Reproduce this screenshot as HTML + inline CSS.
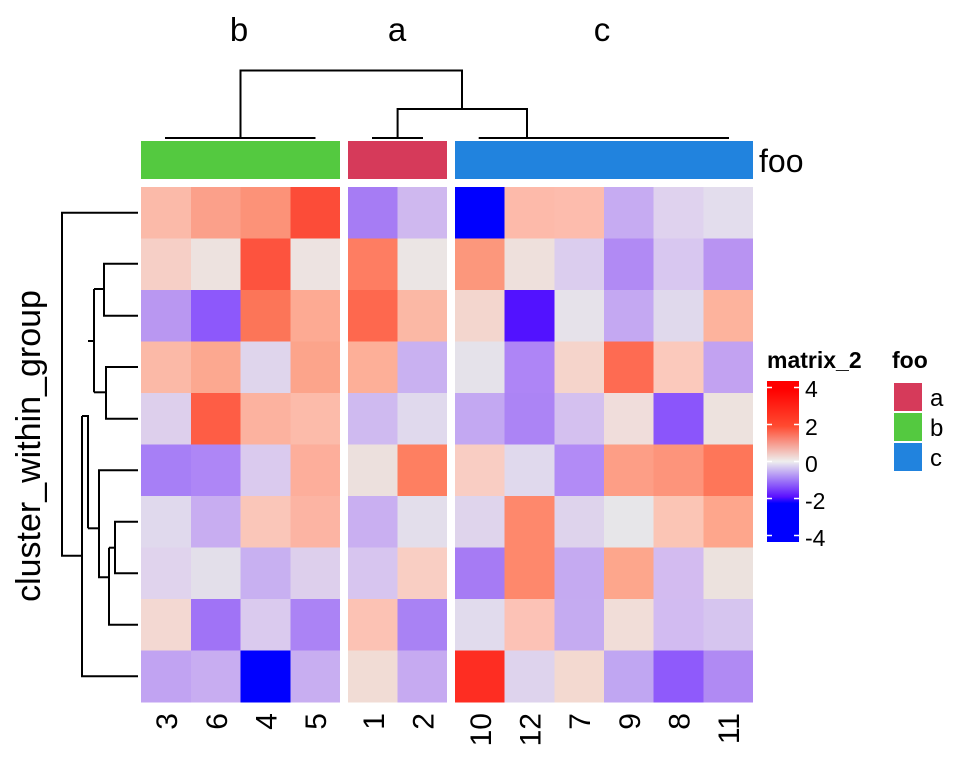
<!DOCTYPE html>
<html><head><meta charset="utf-8"><style>
html,body{margin:0;padding:0;background:#fff;}
svg{display:block;font-family:"Liberation Sans",Arial,sans-serif;}
</style></head><body>
<svg width="960" height="768" viewBox="0 0 960 768" xmlns="http://www.w3.org/2000/svg">
<defs>
<linearGradient id="lg" x1="0" y1="0" x2="0" y2="1">
<stop offset="0" stop-color="#ff0000"/>
<stop offset="0.05" stop-color="#ff0000"/>
<stop offset="0.28" stop-color="#ff4a30"/>
<stop offset="0.5" stop-color="#eeeeee"/>
<stop offset="0.72" stop-color="#5a10ff"/>
<stop offset="0.76" stop-color="#0000ff"/>
<stop offset="1" stop-color="#0000ff"/>
</linearGradient>
</defs>
<g font-size="33" text-anchor="middle" fill="#000">
<text x="239" y="41">b</text><text x="397" y="41">a</text><text x="602" y="41">c</text>
</g>
<g stroke="#000" stroke-width="2" fill="none">
<path d="M240.5,138 V70.5 H462 V109"/>
<path d="M397.6,138 V109 H527 V138"/>
<path d="M165,138 H315.5 M372,138 H423 M478.7,138 H729"/>
</g>
<rect x="141" y="141" width="199" height="38" fill="#54c940"/>
<rect x="348" y="141" width="99" height="38" fill="#d63a5a"/>
<rect x="455" y="141" width="298" height="38" fill="#2183de"/>
<text x="759" y="172" font-size="32">foo</text>
<g shape-rendering="crispEdges">
<g transform="translate(0,187)">
<rect x="141" width="50.3" height="52" fill="#fbbaa9"/><rect x="190.75" width="50.3" height="52" fill="#fba08a"/><rect x="240.5" width="50.3" height="52" fill="#fc9278"/><rect x="290.25" width="49.75" height="52" fill="#fc4c38"/>
<rect x="348" width="50" height="52" fill="#a67cf4"/><rect x="397.5" width="49.5" height="52" fill="#cfb8ef"/>
<rect x="455" width="50.2" height="52" fill="#0000ff"/><rect x="504.67" width="50.2" height="52" fill="#fdbaaa"/><rect x="554.33" width="50.2" height="52" fill="#fdbcad"/><rect x="604" width="50.2" height="52" fill="#c6abf2"/><rect x="653.67" width="50.2" height="52" fill="#dfd2ee"/><rect x="703.33" width="49.67" height="52" fill="#e3dded"/>
</g>
<g transform="translate(0,238.5)">
<rect x="141" width="50.3" height="52" fill="#f6cfc6"/><rect x="190.75" width="50.3" height="52" fill="#ede2df"/><rect x="240.5" width="50.3" height="52" fill="#fd533e"/><rect x="290.25" width="49.75" height="52" fill="#ede3e1"/>
<rect x="348" width="50" height="52" fill="#fe7d62"/><rect x="397.5" width="49.5" height="52" fill="#ebe5e4"/>
<rect x="455" width="50.2" height="52" fill="#fc977c"/><rect x="504.67" width="50.2" height="52" fill="#eee0dc"/><rect x="554.33" width="50.2" height="52" fill="#dbcdee"/><rect x="604" width="50.2" height="52" fill="#b18af4"/><rect x="653.67" width="50.2" height="52" fill="#d8c7f0"/><rect x="703.33" width="49.67" height="52" fill="#b893f2"/>
</g>
<g transform="translate(0,290)">
<rect x="141" width="50.3" height="52" fill="#b997f1"/><rect x="190.75" width="50.3" height="52" fill="#8d58fb"/><rect x="240.5" width="50.3" height="52" fill="#fc7558"/><rect x="290.25" width="49.75" height="52" fill="#fdaa93"/>
<rect x="348" width="50" height="52" fill="#fe684e"/><rect x="397.5" width="49.5" height="52" fill="#fbb8a5"/>
<rect x="455" width="50.2" height="52" fill="#f3d6ce"/><rect x="504.67" width="50.2" height="52" fill="#5212ff"/><rect x="554.33" width="50.2" height="52" fill="#e6e2ea"/><rect x="604" width="50.2" height="52" fill="#c4a8f2"/><rect x="653.67" width="50.2" height="52" fill="#e0d9ec"/><rect x="703.33" width="49.67" height="52" fill="#fdb39d"/>
</g>
<g transform="translate(0,341.5)">
<rect x="141" width="50.3" height="52" fill="#fbb9a7"/><rect x="190.75" width="50.3" height="52" fill="#fca890"/><rect x="240.5" width="50.3" height="52" fill="#dfd5ec"/><rect x="290.25" width="49.75" height="52" fill="#fca48b"/>
<rect x="348" width="50" height="52" fill="#fdaf98"/><rect x="397.5" width="49.5" height="52" fill="#c9b1f1"/>
<rect x="455" width="50.2" height="52" fill="#e5e2ea"/><rect x="504.67" width="50.2" height="52" fill="#ae85f6"/><rect x="554.33" width="50.2" height="52" fill="#f5d4cb"/><rect x="604" width="50.2" height="52" fill="#fe6b52"/><rect x="653.67" width="50.2" height="52" fill="#fbc9bc"/><rect x="703.33" width="49.67" height="52" fill="#c2a2f1"/>
</g>
<g transform="translate(0,393)">
<rect x="141" width="50.3" height="52" fill="#ddcfec"/><rect x="190.75" width="50.3" height="52" fill="#fe5d45"/><rect x="240.5" width="50.3" height="52" fill="#fcb29f"/><rect x="290.25" width="49.75" height="52" fill="#fcbbaa"/>
<rect x="348" width="50" height="52" fill="#cfbaf0"/><rect x="397.5" width="49.5" height="52" fill="#e0d9ed"/>
<rect x="455" width="50.2" height="52" fill="#c3a8f2"/><rect x="504.67" width="50.2" height="52" fill="#ac84f5"/><rect x="554.33" width="50.2" height="52" fill="#d4c0ef"/><rect x="604" width="50.2" height="52" fill="#f0dddb"/><rect x="653.67" width="50.2" height="52" fill="#8b55fb"/><rect x="703.33" width="49.67" height="52" fill="#ede2de"/>
</g>
<g transform="translate(0,444.5)">
<rect x="141" width="50.3" height="52" fill="#a77ff6"/><rect x="190.75" width="50.3" height="52" fill="#ae86f6"/><rect x="240.5" width="50.3" height="52" fill="#dacaee"/><rect x="290.25" width="49.75" height="52" fill="#fdae9b"/>
<rect x="348" width="50" height="52" fill="#ece0dd"/><rect x="397.5" width="49.5" height="52" fill="#fe7f61"/>
<rect x="455" width="50.2" height="52" fill="#f9cdc3"/><rect x="504.67" width="50.2" height="52" fill="#e0d9ed"/><rect x="554.33" width="50.2" height="52" fill="#b28bf6"/><rect x="604" width="50.2" height="52" fill="#fd9e86"/><rect x="653.67" width="50.2" height="52" fill="#fd947b"/><rect x="703.33" width="49.67" height="52" fill="#fe7659"/>
</g>
<g transform="translate(0,496)">
<rect x="141" width="50.3" height="52" fill="#e0d9ed"/><rect x="190.75" width="50.3" height="52" fill="#c8adf1"/><rect x="240.5" width="50.3" height="52" fill="#fac6b9"/><rect x="290.25" width="49.75" height="52" fill="#fcb4a3"/>
<rect x="348" width="50" height="52" fill="#c9aff1"/><rect x="397.5" width="49.5" height="52" fill="#e3deeb"/>
<rect x="455" width="50.2" height="52" fill="#dfd4ec"/><rect x="504.67" width="50.2" height="52" fill="#fe886c"/><rect x="554.33" width="50.2" height="52" fill="#ded3ec"/><rect x="604" width="50.2" height="52" fill="#e7e6e9"/><rect x="653.67" width="50.2" height="52" fill="#fbc5b5"/><rect x="703.33" width="49.67" height="52" fill="#fea68c"/>
</g>
<g transform="translate(0,547.5)">
<rect x="141" width="50.3" height="52" fill="#e0d3ed"/><rect x="190.75" width="50.3" height="52" fill="#e3dfea"/><rect x="240.5" width="50.3" height="52" fill="#c8b0f1"/><rect x="290.25" width="49.75" height="52" fill="#ddcfec"/>
<rect x="348" width="50" height="52" fill="#d7c5ef"/><rect x="397.5" width="49.5" height="52" fill="#f9cec3"/>
<rect x="455" width="50.2" height="52" fill="#a67bf4"/><rect x="504.67" width="50.2" height="52" fill="#fe886c"/><rect x="554.33" width="50.2" height="52" fill="#c5aaf1"/><rect x="604" width="50.2" height="52" fill="#fda68c"/><rect x="653.67" width="50.2" height="52" fill="#d3bbf0"/><rect x="703.33" width="49.67" height="52" fill="#ece2de"/>
</g>
<g transform="translate(0,599)">
<rect x="141" width="50.3" height="52" fill="#f3d8d2"/><rect x="190.75" width="50.3" height="52" fill="#a073f6"/><rect x="240.5" width="50.3" height="52" fill="#dacaee"/><rect x="290.25" width="49.75" height="52" fill="#ab83f5"/>
<rect x="348" width="50" height="52" fill="#fcc2b4"/><rect x="397.5" width="49.5" height="52" fill="#a982f4"/>
<rect x="455" width="50.2" height="52" fill="#e1dbed"/><rect x="504.67" width="50.2" height="52" fill="#fcc2b6"/><rect x="554.33" width="50.2" height="52" fill="#c5abf1"/><rect x="604" width="50.2" height="52" fill="#f1ddd8"/><rect x="653.67" width="50.2" height="52" fill="#d2bbf1"/><rect x="703.33" width="49.67" height="52" fill="#d6c5ef"/>
</g>
<g transform="translate(0,650.5)">
<rect x="141" width="50.3" height="52" fill="#c1a3f2"/><rect x="190.75" width="50.3" height="52" fill="#c8adf1"/><rect x="240.5" width="50.3" height="52" fill="#0000ff"/><rect x="290.25" width="49.75" height="52" fill="#c8aef1"/>
<rect x="348" width="50" height="52" fill="#f1dcd5"/><rect x="397.5" width="49.5" height="52" fill="#c6aaf1"/>
<rect x="455" width="50.2" height="52" fill="#fe2d22"/><rect x="504.67" width="50.2" height="52" fill="#ded3ed"/><rect x="554.33" width="50.2" height="52" fill="#f3d9d0"/><rect x="604" width="50.2" height="52" fill="#c0a6f2"/><rect x="653.67" width="50.2" height="52" fill="#8f5afb"/><rect x="703.33" width="49.67" height="52" fill="#b08af3"/>
</g>
</g>
<g stroke="#000" stroke-width="2" fill="none">
<path d="M138,212.75 H62 V555.7 H82"/>
<path d="M82,416 V676.25 H138"/>
<path d="M82,416 H88 V528.3"/>
<path d="M88,341 H94"/>
<path d="M94,289 V392.3"/>
<path d="M94,289 H104"/><path d="M138,263.7 H104 V315.7 H138"/>
<path d="M94,392.3 H106"/><path d="M138,367 H106 V418.7 H138"/>
<path d="M88,528.3 H99"/><path d="M138,470.25 H99 V577.3 H109"/>
<path d="M109,547.7 V624.75 H138"/>
<path d="M109,547.7 H115"/><path d="M138,521.75 H115 V573.25 H138"/>
</g>
<text transform="translate(40,446) rotate(-90)" font-size="34" text-anchor="middle">cluster_within_group</text>
<g font-size="30" text-anchor="end">
<text transform="translate(177,713) rotate(-90)">3</text>
<text transform="translate(227,713) rotate(-90)">6</text>
<text transform="translate(276.5,713) rotate(-90)">4</text>
<text transform="translate(326,713) rotate(-90)">5</text>
<text transform="translate(384,713) rotate(-90)">1</text>
<text transform="translate(433.5,713) rotate(-90)">2</text>
<text transform="translate(491,713) rotate(-90)">10</text>
<text transform="translate(540.5,713) rotate(-90)">12</text>
<text transform="translate(590,713) rotate(-90)">7</text>
<text transform="translate(640,713) rotate(-90)">9</text>
<text transform="translate(689.5,713) rotate(-90)">8</text>
<text transform="translate(739,713) rotate(-90)">11</text>
</g>
<text x="767" y="368" font-size="23" font-weight="bold">matrix_2</text>
<text x="892" y="368" font-size="23" font-weight="bold">foo</text>
<rect x="767" y="381" width="32" height="161" fill="url(#lg)"/>
<g stroke="#fff" stroke-width="1.5">
<path d="M767,387.5 h5 M794,387.5 h5"/>
<path d="M767,424.5 h5 M794,424.5 h5"/>
<path d="M767,461.5 h5 M794,461.5 h5"/>
<path d="M767,498.5 h5 M794,498.5 h5"/>
<path d="M767,535.5 h5 M794,535.5 h5"/>
</g>
<g font-size="23">
<text x="805" y="397">4</text>
<text x="805" y="435">2</text>
<text x="805" y="472">0</text>
<text x="805" y="509">-2</text>
<text x="805" y="546">-4</text>
</g>
<rect x="894" y="383" width="28" height="28" fill="#d63a5a"/>
<rect x="894" y="413" width="28" height="28" fill="#54c940"/>
<rect x="894" y="443" width="28" height="28" fill="#2183de"/>
<g font-size="24">
<text x="930" y="406">a</text>
<text x="930" y="436">b</text>
<text x="930" y="466">c</text>
</g>
</svg>
</body></html>
